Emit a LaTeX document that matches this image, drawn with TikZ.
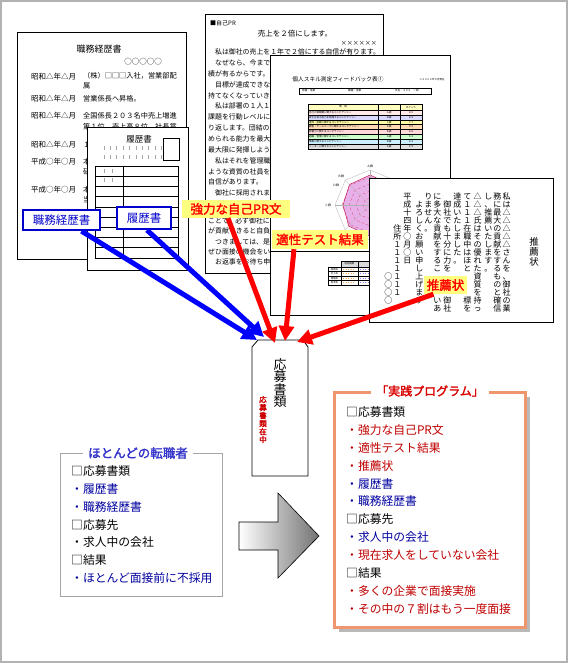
\documentclass[tikz,border=0pt]{standalone}
\usepackage{fontspec}
\newfontfamily\jp[AutoFakeBold=2]{Noto Sans CJK JP}
\definecolor{tagyellow}{HTML}{FFFF80}
\definecolor{tagblue}{HTML}{0000CC}
\definecolor{itemred}{HTML}{C00000}
\definecolor{itemblue}{HTML}{0000A0}
\definecolor{titleblue}{HTML}{3333CC}
\definecolor{frameorange}{HTML}{F0966E}
\definecolor{radarpink}{HTML}{E8B0E8}
\usetikzlibrary{arrows.meta, positioning, calc}

% vertical (tategaki) column of characters
\newcommand{\tate}[2][8pt]{\edef\tatetmp{#2}\vbox{\baselineskip=#1\lineskiplimit=-\maxdimen\lineskip=0pt\relax\expandafter\tateloop\tatetmp\relax}}
\newcommand{\tateloop}[1]{\ifx\relax#1\else\hbox to 1em{\hss#1\hss}\expandafter\tateloop\fi}

\begin{document}
\begin{tikzpicture}[x=1pt, y=-1pt,
    doc/.style={draw=black, fill=white, line width=0.8pt},
    txt/.style={font=\jp\fontsize{#1}{#1}\selectfont, inner sep=0pt},
    txtb/.style={font=\jp\bfseries\fontsize{#1}{#1}\selectfont, inner sep=0pt},
    tatecol/.style={txt=#1, anchor=north},
    bluetag/.style={draw=tagblue, line width=2.2pt, fill=white, text=tagblue, txt=11.5, minimum height=20pt},
    yellowtag/.style={fill=tagyellow, text=red, txtb=12.5, minimum height=18pt},
    blueflow/.style={draw=blue, line width=5pt, -{Triangle[length=15pt, width=15pt]}},
    redflow/.style={draw=red, line width=5pt, -{Triangle[length=15pt, width=15pt]}},
    listitem/.style={txt=11.8, anchor=west},
]
    \useasboundingbox (0,0) rectangle (570,664);
    \fill[white] (0,0) rectangle (570,664);
    \draw[gray!60, line width=1.5pt] (1,1) rectangle (567,662);

    % Career sheet
    \draw[doc] (17,32) rectangle (186,259);
    \node[txt=9] (careertitle) at (99,49) {職務経歴書};
    \node[txt=7.5] (careername) at (143,62) {○○○○○};
    \foreach \y/\era [count=\i] in {77/昭和△年△月, 99/昭和△年△月, 116/昭和△年△月, 145/昭和△年△月, 162/平成○年○月, 190/平成○年○月}
        \node[txt=7.5, anchor=west] (era\i) at (31,\y) {\era};
    \foreach \y/\row [count=\i] in {76/（株）□□□入社，営業部配, 86/属, 99/営業係長へ昇格。, 116/全国係長２０３名中売上増進, 127/第１位　売上高８位　社長賞, 145/１, 162/本, 172/研, 190/本, 200/当}
        \node[txt=7.2, anchor=west] (career\i) at (83,\y) {\row};

    % Resume
    \draw[doc] (87,127) rectangle (188,270);
    \node[txt=8.5] (resumetitle) at (139,139) {履歴書};
    \draw[line width=0.6pt] (163,138) rectangle (179,160);
    \foreach \y in {148,157}
        \foreach \k in {0,...,9}
            \draw[gray!70, line width=1pt] ({104+6.4*\k},{\y-1.8}) -- ++(0,3.6);
    \draw[line width=0.6pt] (95,166) rectangle (178,258);
    \draw[line width=0.6pt] (123,166) -- (123,258);
    \foreach \k in {1,...,8}
        \draw[line width=0.6pt] (95,{166+10.2*\k}) -- (178,{166+10.2*\k});
    \foreach \y in {171,180}
        \foreach \k in {0,1}
            \draw[gray!70, line width=1pt] ({104+8*\k},{\y-1.8}) -- ++(0,3.6);

    % Self PR
    \draw[doc] (205,14) rectangle (383,273);
    \node[txt=6, anchor=west] (prhead) at (210,23) {■自己PR};
    \node[txt=7.5] (prtitle) at (295,34) {売上を２倍にします。};
    \node[txt=6, anchor=east] (prname) at (377,43) {××××××};
    \foreach \y/\row [count=\i] in {52/　私は御社の売上を１年で２倍にする自信が有ります。, 62.9/　なぜなら、今まで, 73.7/績が有るからです。, 84.6/　目標が達成できな, 95.4/持てなくなっていき, 106.3/　私は部署の１人１, 117.1/課題を行動レベルに, 128/り返します。団結の, 138.8/められる能力を最大, 149.7/最大限に発揮しよう, 160.5/　私はそれを管理職, 171.4/ような資質の社員を, 182.2/自信があります。, 193.1/　御社に採用されま, 221/ことで、必ず御社に, 231.3/が貢献できると自負, 241.6/　つきましては、是, 251.9/ぜひ面接の機会をい, 262.2/　お返事をお待ち申}
        \node[txt=6.9, anchor=west] (pr\i) at (208,\y) {\row};

    % Skill feedback sheet
    \draw[doc] (270,55) rectangle (450,315);
    \node[txt=5.7] (fbtitle) at (338,79) {個人スキル測定フィードバック表①};
    \node[txt=2.5] (fbdate) at (432,80) {※２００２年５月現在};
    \draw[line width=0.4pt] (299,88) rectangle (431,94);
    \node[txt=2.6, anchor=west] (fbdept) at (302,91) {部署：営業};
    \node[txt=2.6, anchor=west] (fbjob) at (348,91) {職種：営業};
    \node[txt=2.6, anchor=west] (fbname) at (395,91) {氏名：ＸＸＸ　一郎};
    \fill[yellow!25] (308,104) rectangle (422,110);
    \node[txt=2.6] (fbhead) at (343,107) {項　目};
    \node[txt=2.6] (fbpoint) at (411,107) {ポイント};
    \foreach \c/\row/\g/\p [count=\i from 0] in {pink!35/自己の価値観に関するコンピテンシー/Ａ級/８０, blue!15/変化を捉え能力を発揮するコンピテンシー/Ｂ級/８５, yellow!35/達成・挑戦に関するコンピテンシー/Ｃ級/７７, orange!30/顧客・チームワークに関するコンピテンシー/Ａ級/９０, red!15/影響力に関するコンピテンシー/Ｂ級/８６, green!20/組織・管理に関するコンピテンシー/Ａ級/９２, cyan!20/情報に関するコンピテンシー/Ｂ級/８４, gray!25/リーダーに関するコンピテンシー/Ａ級/９５}{
        \fill[\c] (308,{110+4.875*\i}) rectangle (422,{110+4.875*(\i+1)});
        \node[txt=2.5, anchor=west] (fbrow\i) at (309,{112.4+4.875*\i}) {\row};
        \node[txt=2.5] (fbgrade\i) at (389,{112.4+4.875*\i}) {\g};
        \node[txt=2.5] (fbpts\i) at (411,{112.4+4.875*\i}) {\p};
    }
    \draw[line width=0.3pt] (308,104) rectangle (422,149);
    \draw[line width=0.3pt] (378,104) -- (378,149) (400,104) -- (400,149);
    \foreach \k in {0,...,7}
        \draw[line width=0.3pt] (308,{110+4.875*\k}) -- (422,{110+4.875*\k});

    % Radar chart
    \begin{scope}[shift={(370,205)}, yscale=-1]
        \draw[gray!60, line width=0.3pt] (90:35) \foreach \k in {1,...,7}{ -- (90+45*\k:35)} -- cycle;
        \fill[radarpink] (90:30) -- (135:29) -- (180:27) -- (225:30) -- (270:31) -- (315:28) -- (0:30) -- (45:29) -- cycle;
        \foreach \r in {7,14,21,28}
            \draw[purple!70, line width=0.3pt, densely dashed] (90:\r) \foreach \k in {1,...,7}{ -- (90+45*\k:\r)} -- cycle;
        \draw[purple, line width=0.4pt] (90:30) -- (135:29) -- (180:27) -- (225:30) -- (270:31) -- (315:28) -- (0:30) -- (45:29) -- cycle;
        \foreach \k in {0,...,7}
            \draw[gray!60, line width=0.3pt] (0,0) -- (90+45*\k:35);
        \node[txt=3] (radara) at (90:39) {Ａ群};
        \node[txt=3] (radarb) at (135:41) {Ｂ群};
        \node[txt=3] (radarc) at (180:42) {Ｃ群};
        \node[txt=3] (radard) at (-34,19.5) {Ｄ群};
    \end{scope}

    % Result table
    \draw[line width=0.4pt] (270,251) -- (369,251);
    \fill[gray!30] (341,261) rectangle (375,267);
    \draw[line width=0.3pt] (341,261) rectangle (375,267) (358,261) -- (358,267);
    \draw[line width=0.3pt] (328,267) rectangle (375,285);
    \draw[line width=0.3pt] (341,267) -- (341,285) (358,267) -- (358,285);
    \node[txt=2.4] (fbprev) at (349.5,264) {前回結果};
    \foreach \row [count=\i from 0] in {意欲系, 対人系, 情報系, 思考系}{
        \draw[line width=0.3pt] (328,{267+4.5*\i}) -- (375,{267+4.5*\i});
        \node[txt=2.4] (fbcat\i) at (334.5,{269.25+4.5*\i}) {\row};
        \draw[orange!70, line width=0.6pt, dotted] (343,{269.25+4.5*\i}) -- (356,{269.25+4.5*\i});
        \draw[blue!50, line width=0.6pt, dotted] (360,{269.25+4.5*\i}) -- (373,{269.25+4.5*\i});
    }

    % Recommendation letter
    \draw[doc] (369,178) rectangle (553,322);
    \node[tatecol=9.5] (suititle) at (534,237) {\tate[10pt]{推薦状}};
    \foreach \x/\y/\row [count=\i] in {506.7/193/私は△△△△△さんを、御社の業, 497.3/193/務に最大の貢献をするものと確信, 488.3/193/し、推薦いたします。, 477.7/193/△△△氏はその優れた資質を持っ, 467.3/193/て１１１在職中はほと　　　標を, 457.3/193/達成いたしました。, 447.3/201/御社でも十分に力を　　　御社, 437.3/193/に多大な貢献をするこ　　　いあ, 428.3/193/りません。, 419.3/201/よろしくお願い申し上げます, 407.3/193/平成十四年○月○日, 397.3/225/住所１１１１１１１, 388.3/273/○○○○}
        \node[tatecol=8] (sui\i) at (\x,\y) {\tate[8pt]{\row}};

    % Envelope
    \draw[fill=white, line width=0.8pt] (252,476) -- (252,347) -- (258,340) -- (303,340) -- (308,347) -- (308,476) -- cycle;
    \node[tatecol=13] (envtext) at (280,358) {\tate[12.5pt]{応募書類}};
    \node[tatecol=7.5, font=\jp\bfseries\fontsize{7.5}{7.5}\selectfont, text=red!80!black] (envred) at (263,396) {\tate[8pt]{応募書類在中}};
    \coordinate (tipa) at (257,340);
    \coordinate (tipb) at (264,337);
    \coordinate (tipc) at (275,343);
    \coordinate (tipd) at (285,341);
    \coordinate (tipe) at (297,342);

    % Labels
    \node[bluetag, minimum width=77pt] (careertag) at (61.5,220) {職務経歴書};
    \node[bluetag, minimum width=54pt, minimum height=22pt] (resumetag) at (144,218) {履歴書};
    \node[yellowtag, minimum width=108pt] (prtag) at (236,209) {強力な自己PR文};
    \node[yellowtag, minimum width=96pt, minimum height=19pt] (testtag) at (320,239.5) {適性テスト結果};
    \node[yellowtag, minimum width=43pt] (suitag) at (445.5,285) {推薦状};

    \draw[blueflow] ([xshift=20pt]careertag.south) -- (tipa);
    \draw[blueflow] ([xshift=3pt]resumetag.south) -- (tipb);
    \draw[redflow] ([xshift=-8pt]prtag.south) -- (tipc);
    \draw[redflow] ([xshift=-26pt]testtag.south) -- (tipd);
    \draw[redflow] ([xshift=-12pt]suitag.south) -- (tipe);

    % Most job changers
    \draw[gray!70, line width=1pt] (60,453) rectangle (222,596);
    \node[fill=white, text=titleblue, txtb=12.5, inner xsep=5pt, inner ysep=2pt] (usualtitle) at (138,453) {ほとんどの転職者};
    \foreach \row/\col [count=\i from 0] in {□応募書類/black, ・履歴書/itemblue, ・職務経歴書/itemblue, □応募先/black, ・求人中の会社/black, □結果/black, ・ほとんど面接前に不採用/itemblue}
        \node[listitem, text=\col] (usual\i) at (71,{471+17.85*\i}) {\row};

    % Big arrow
    \shadedraw[left color=white, right color=black!55, draw=black, line width=0.6pt] (239,522) -- (278,522) -- (278,493) -- (319,536) -- (278,578) -- (278,550) -- (239,550) -- cycle;

    % Practical program
    \fill[gray!55] (339,397) rectangle (530,632);
    \draw[frameorange, line width=3pt, fill=white] (334,392) rectangle (525,627);
    \node[fill=white, text=red!85!black, txtb=12, inner xsep=5pt, inner ysep=2pt] (progtitle) at (430,391) {「実践プログラム」};
    \foreach \row/\col [count=\i from 0] in {□応募書類/black, ・強力な自己PR文/itemred, ・適性テスト結果/itemred, ・推薦状/itemred, ・履歴書/itemblue, ・職務経歴書/itemblue, □応募先/black, ・求人中の会社/itemblue, ・現在求人をしていない会社/itemred, □結果/black, ・多くの企業で面接実施/itemred, ・その中の７割はもう一度面接/itemred}
        \node[listitem, text=\col] (prog\i) at (346,{412+17.9*\i}) {\row};
\end{tikzpicture}
\end{document}
